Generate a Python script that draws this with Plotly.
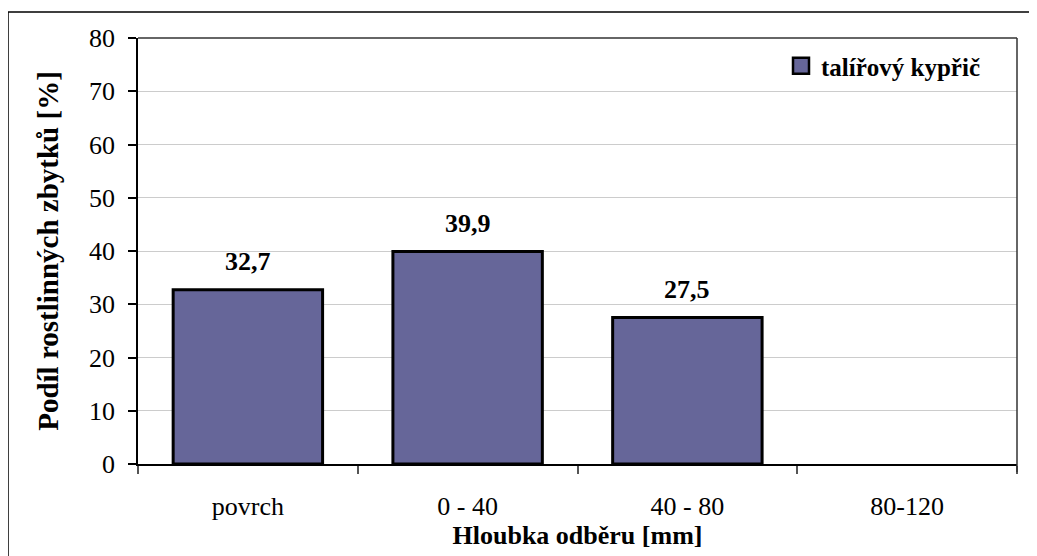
import plotly.graph_objects as go

categories = ["povrch", "0 - 40", "40 - 80", "80-120"]
values = [32.7, 39.9, 27.5, None]
value_labels = ["32,7", "39,9", "27,5", ""]
series_name = "talířový kypřič"
y_ticks = [0, 10, 20, 30, 40, 50, 60, 70, 80]

FONT = "Liberation Serif"
BAR_COLOR = "#666699"

fig = go.Figure()
fig.add_trace(go.Bar(
    x=categories, y=values, name=series_name, showlegend=False,
    marker=dict(color=BAR_COLOR, line=dict(color="black", width=3)),
))
# legend entry with a larger square swatch
fig.add_trace(go.Scatter(
    x=[None], y=[None], mode="markers", name="<b>%s</b>" % series_name,
    marker=dict(symbol="square", size=17, color=BAR_COLOR, line=dict(color="black", width=2.5)),
))

for c, v, t in zip(categories, values, value_labels):
    if v is None:
        continue
    fig.add_annotation(x=c, y=v, text="<b>%s</b>" % t, showarrow=False,
                       yanchor="middle", yshift=28,
                       font=dict(family=FONT, size=26, color="black"))

# page body has an 8px offset; layout given in figure coordinates
L, R, T, B = 130, 28, 30, 100
W, H = 1037, 556
pw, ph = W - L - R, H - T - B
def px(xp):
    return (xp - L) / pw
def py(yp):
    return (H - B - yp) / ph

fig.add_shape(type="rect", xref="paper", yref="paper",
              x0=px(0), x1=px(1045), y0=py(565), y1=py(4),
              line=dict(color="black", width=1.5), fillcolor="rgba(0,0,0,0)", layer="below")

fig.update_layout(
    width=W, height=H,
    margin=dict(l=L, r=R, t=T, b=B),
    paper_bgcolor="white", plot_bgcolor="white",
    bargap=0.32,
    font=dict(family=FONT, size=26, color="black"),
    legend=dict(x=px(773), y=py(35), xanchor="left", yanchor="top",
                bgcolor="rgba(0,0,0,0)", font=dict(family=FONT, size=25, color="black"),
                itemwidth=30),
    showlegend=True,
)

fig.update_xaxes(
    type="category", tickson="boundaries", ticks="outside", ticklen=8, tickcolor="#555",
    tickwidth=1.5, showline=True, linecolor="black", linewidth=1.5, mirror=False,
    showgrid=False, ticklabelstandoff=18,
    title=dict(text="<b>Hloubka odběru [mm]</b>", font=dict(family=FONT, size=26), standoff=1),
    tickfont=dict(family=FONT, size=26),
)
fig.update_yaxes(
    range=[0, 80], tickvals=y_ticks, ticks="outside", ticklen=8, tickcolor="black", tickwidth=1.5,
    showline=True, linecolor="black", linewidth=1.5, mirror=False,
    showgrid=True, gridcolor="#cccccc", gridwidth=1, zeroline=False,
    ticklabelstandoff=8,
    title=dict(text="<b>Podíl rostlinných zbytků [%]</b>", font=dict(family=FONT, size=29), standoff=22),
    tickfont=dict(family=FONT, size=26),
)
# plot-area border (top and right)
fig.add_shape(type="line", xref="paper", yref="paper", x0=0, x1=1, y0=1, y1=1,
              line=dict(color="#333", width=1.5))
fig.add_shape(type="line", xref="paper", yref="paper", x0=1, x1=1, y0=-8/ph, y1=1,
              line=dict(color="#333", width=1.5))

fig.write_html("out.html")
